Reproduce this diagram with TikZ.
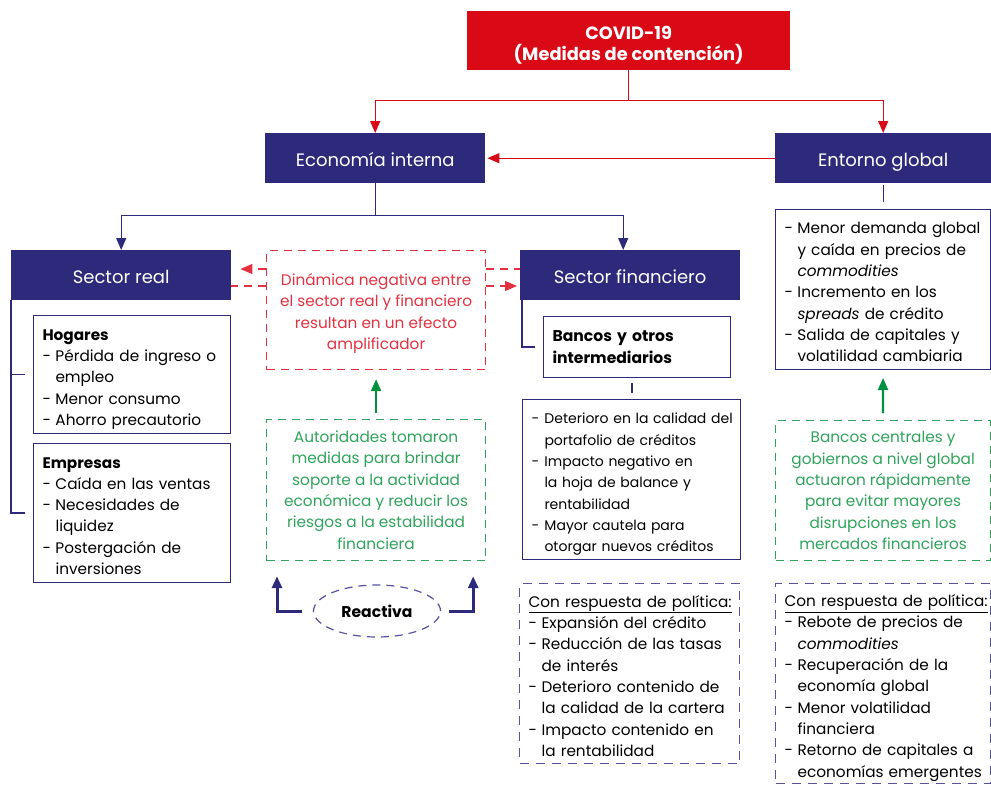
\documentclass[tikz,border=0pt]{standalone}
\usepackage{fontspec}
\setmainfont{Poppins}
\usetikzlibrary{arrows.meta,shapes.geometric}
\definecolor{covidred}{HTML}{D90A16}
\definecolor{navy}{HTML}{2E2A7B}
\definecolor{dashred}{HTML}{E2313F}
\definecolor{arrowgreen}{HTML}{00913F}
\definecolor{dashgreen}{HTML}{2FA35B}
\definecolor{dashnavy}{HTML}{5652A0}
\newsavebox{\lisavebox}
\newenvironment{lilist}{\begin{lrbox}{\lisavebox}\begin{tabular}{@{}p{13pt}@{}l@{}}}%
  {\end{tabular}\end{lrbox}\raisebox{-4pt}[\height][\depth]{\usebox{\lisavebox}}}
\newcommand{\lihead}[1]{\multicolumn{2}{@{}l@{}}{#1}}
\begin{document}
\begin{tikzpicture}[x=1pt, y=-1pt, >={Triangle[length=12pt,width=10pt]},
    font=\fontsize{15.3}{21.3}\selectfont,
    covidbox/.style={fill=covidred, text=white, anchor=north west, align=center,
      minimum width=323pt, minimum height=59pt, inner sep=0pt,
      font=\bfseries\fontsize{17.8}{21}\selectfont},
    head/.style={fill=navy, text=white, anchor=north west, minimum width=220pt,
      minimum height=50pt, inner sep=0pt, text height=17pt, text depth=0pt,
      font=\fontsize{18}{21}\selectfont},
    listbox/.style={draw=navy, line width=1pt, anchor=north west, align=left,
      inner xsep=9pt, inner ysep=0pt},
    ampbox/.style={draw=dashred, text=dashred, dash pattern=on 8pt off 6pt,
      line width=1.2pt, anchor=north west, align=center, inner sep=0pt},
    grnbox/.style={draw=dashgreen, text=dashgreen, dash pattern=on 8pt off 6pt,
      line width=1.2pt, anchor=north west, align=center, inner sep=0pt},
    polbox/.style={draw=dashnavy, dash pattern=on 9pt off 7pt, line width=1.2pt,
      anchor=north west, align=left, inner xsep=9pt, inner ysep=0pt},
    redline/.style={draw=covidred, line width=1.3pt},
    navyline/.style={draw=navy, line width=1.2pt},
    reddash/.style={draw=dashred, dash pattern=on 8pt off 6pt, line width=1.2pt},
    grnarrow/.style={draw=arrowgreen, line width=2.2pt},
    navyarrow/.style={draw=navy, line width=3pt}]
  \useasboundingbox (0,0) rectangle (991,792);

  % top level
  \node[covidbox] (covid) at (467,11) {\rule{0pt}{22pt}COVID-19\\(Medidas de contención)};
  \node[head] (econ) at (265,133) {Economía interna};
  \node[head, minimum width=216pt] (ent) at (775,133) {Entorno global};
  \node[head] (sreal) at (11,250) {Sector real};
  \node[head] (sfin) at (520,250) {Sector financiero};

  % sector real
  \node[listbox, text width=179pt, minimum height=118pt] (hog) at (33,315)
    {\begin{lilist}\lihead{\textbf{Hogares}}\\ -&Pérdida de ingreso o\\ &empleo\\
     -&Menor consumo\\ -&Ahorro precautorio\end{lilist}};
  \node[listbox, text width=179pt, minimum height=139pt] (emp) at (33,443)
    {\begin{lilist}\lihead{\textbf{Empresas}}\\ -&Caída en las ventas\\ -&Necesidades de\\
     &liquidez\\ -&Postergación de\\ &inversiones\end{lilist}};

  % sector financiero
  \node[listbox, text width=169pt, minimum height=61pt, font=\bfseries\fontsize{15.6}{21.3}\selectfont]
    (banc) at (543,316) {Bancos y otros\\intermediarios};
  \node[listbox, text width=200pt, minimum height=160pt, font=\fontsize{14}{21.3}\selectfont]
    (fincr) at (522,399)
    {\begin{lilist}-&Deterioro en la calidad del\\ &portafolio de créditos\\
     -&Impacto negativo en\\ &la hoja de balance y\\ &rentabilidad\\
     -&Mayor cautela para\\ &otorgar nuevos créditos\end{lilist}};
  \node[polbox, text width=202pt, minimum height=180pt] (polfin) at (519,583)
    {\begin{lilist}\lihead{\underline{Con respuesta de política:}}\\ -&Expansión del crédito\\
     -&Reducción de las tasas\\ &de interés\\
     -&Deterioro contenido de\\ &la calidad de la cartera\\
     -&Impacto contenido en\\ &la rentabilidad\end{lilist}};

  % entorno global
  \node[listbox, text width=197pt, minimum height=160pt] (entl) at (775,209)
    {\begin{lilist}-&Menor demanda global\\ &y caída en precios de\\ &\textit{commodities}\\
     -&Incremento en los\\ &\textit{spreads} de crédito\\
     -&Salida de capitales y\\ &volatilidad cambiaria\end{lilist}};
  \node[grnbox, minimum width=215pt, minimum height=140pt] (gov) at (775,420)
    {Bancos centrales y\\gobiernos a nivel global\\actuaron rápidamente\\
     para evitar mayores\\disrupciones en los\\mercados financieros};
  \node[polbox, text width=197pt, minimum height=200pt] (polglob) at (775,583)
    {\begin{lilist}\lihead{\underline{Con respuesta de política:}}\\ -&Rebote de precios de\\ &\textit{commodities}\\
     -&Recuperación de la\\ &economía global\\
     -&Menor volatilidad\\ &financiera\\
     -&Retorno de capitales a\\ &economías emergentes\end{lilist}};

  % middle column
  \node[ampbox, minimum width=219pt, minimum height=119pt] (amp) at (266,250)
    {\rule{0pt}{19pt}Dinámica negativa entre\\el sector real y financiero\\resultan en un efecto\\amplificador};
  \node[grnbox, minimum width=219pt, minimum height=141pt] (aut) at (266,419)
    {Autoridades tomaron\\medidas para brindar\\soporte a la actividad\\
     económica y reducir los\\riesgos a la estabilidad\\financiera};
  \node[ellipse, draw=dashnavy, dash pattern=on 8pt off 6pt, line width=1.2pt,
    minimum width=127pt, minimum height=52pt, font=\bfseries\fontsize{15.6}{21}\selectfont]
    (react) at (377,611) {Reactiva};

  % connectors
  \draw[redline, ->] (covid.south) -- ++(0,30) -| (econ.north);
  \draw[redline, ->] (covid.south) -- ++(0,30) -| (ent.north);
  \draw[redline, ->] (ent.west) -- ([xshift=2pt]econ.east);
  \draw[navyline, ->] (econ.south) -- ++(0,32) -| (sreal.north);
  \draw[navyline, ->] (econ.south) -- ++(0,32) -| ([xshift=-7pt]sfin.north);
  \draw[navyline] ([yshift=-2pt]ent.south) -- ++(0,17);
  \draw[navyline] (sreal.south west) |- ([xshift=-8pt]emp.west);
  \draw[navyline] ([xshift=-8pt]hog.west) -- (hog.west -| sreal.west);
  \draw[navyline] ([xshift=2pt]sfin.south west) |- ([xshift=-8pt]banc.west);
  \draw[navyline] ([yshift=-5pt, xshift=-5pt]banc.south) -- ++(0,10);

  \coordinate (ampL) at ([yshift=-19pt]amp.north west);
  \coordinate (ampR) at ([yshift=-36pt]amp.north east);
  \draw[reddash, ->, shorten >=9pt] (ampL) -- (ampL -| sreal.east);
  \draw[reddash] ([yshift=-36pt]amp.north west) -- (ampR -| sreal.east);
  \draw[reddash, ->, shorten >=3pt] (ampR) -- (ampR -| sfin.west);
  \draw[reddash] ([yshift=-19pt]amp.north east) -- (ampL -| sfin.west);

  \draw[grnarrow, ->, shorten <=6pt, shorten >=9pt] (aut.north) -- (amp.south);
  \draw[grnarrow, ->, shorten <=7pt, shorten >=8pt] (gov.north) -- (entl.south);
  \draw[navyarrow, ->, shorten <=11pt, shorten >=15pt] (react.west) -| ([xshift=11pt]aut.south west);
  \draw[navyarrow, ->, shorten <=8pt, shorten >=15pt] (react.east) -| ([xshift=-13pt]aut.south east);
\end{tikzpicture}
\end{document}
